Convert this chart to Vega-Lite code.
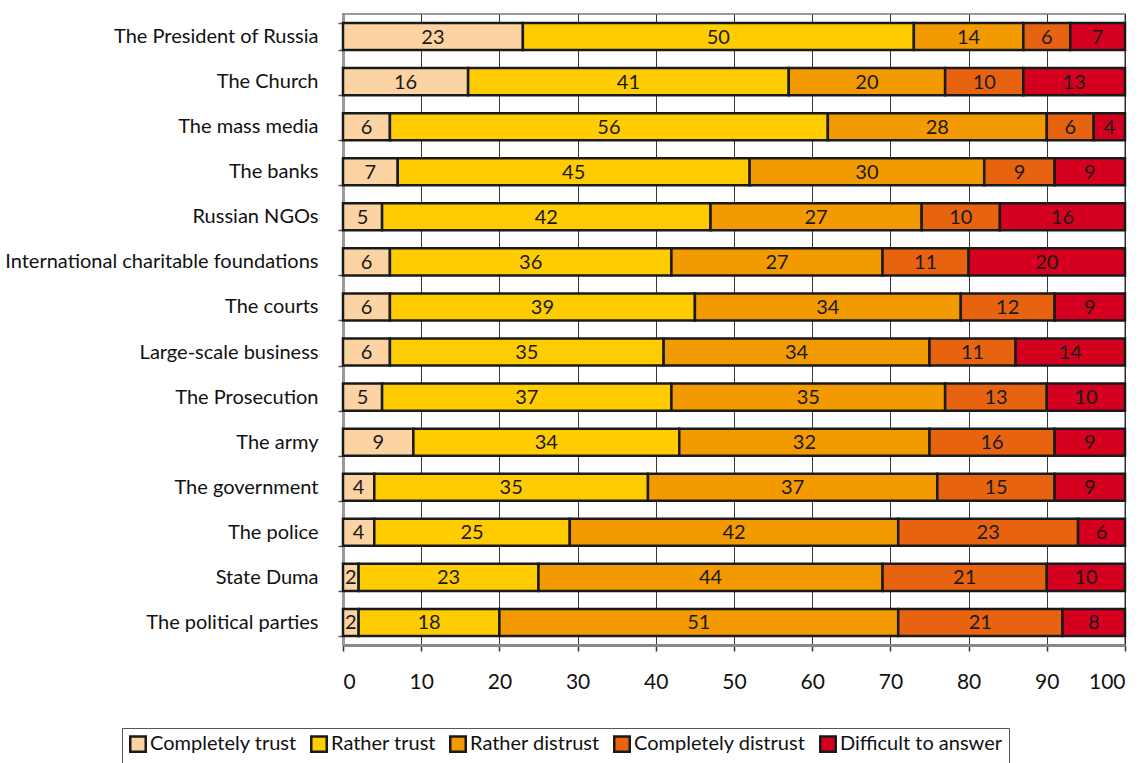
{
  "$schema": "https://vega.github.io/schema/vega-lite/v6.json",
  "width": 782,
  "height": 631,
  "autosize": {"type": "none"},
  "padding": {"left": 343, "top": 14, "right": 20, "bottom": 118},
  "background": "white",
  "config": {
    "font": "Lato",
    "view": {"stroke": "#999999", "strokeWidth": 2},
    "axis": {"labelFont": "Lato"},
    "legend": {"labelFont": "Lato"}
  },
  "data": {
    "values": [
      {"inst": "The President of Russia", "cat": "Completely trust", "o": 1, "v": 23},
      {"inst": "The President of Russia", "cat": "Rather trust", "o": 2, "v": 50},
      {"inst": "The President of Russia", "cat": "Rather distrust", "o": 3, "v": 14},
      {"inst": "The President of Russia", "cat": "Completely distrust", "o": 4, "v": 6},
      {"inst": "The President of Russia", "cat": "Difficult to answer", "o": 5, "v": 7},
      {"inst": "The Church", "cat": "Completely trust", "o": 1, "v": 16},
      {"inst": "The Church", "cat": "Rather trust", "o": 2, "v": 41},
      {"inst": "The Church", "cat": "Rather distrust", "o": 3, "v": 20},
      {"inst": "The Church", "cat": "Completely distrust", "o": 4, "v": 10},
      {"inst": "The Church", "cat": "Difficult to answer", "o": 5, "v": 13},
      {"inst": "The mass media", "cat": "Completely trust", "o": 1, "v": 6},
      {"inst": "The mass media", "cat": "Rather trust", "o": 2, "v": 56},
      {"inst": "The mass media", "cat": "Rather distrust", "o": 3, "v": 28},
      {"inst": "The mass media", "cat": "Completely distrust", "o": 4, "v": 6},
      {"inst": "The mass media", "cat": "Difficult to answer", "o": 5, "v": 4},
      {"inst": "The banks", "cat": "Completely trust", "o": 1, "v": 7},
      {"inst": "The banks", "cat": "Rather trust", "o": 2, "v": 45},
      {"inst": "The banks", "cat": "Rather distrust", "o": 3, "v": 30},
      {"inst": "The banks", "cat": "Completely distrust", "o": 4, "v": 9},
      {"inst": "The banks", "cat": "Difficult to answer", "o": 5, "v": 9},
      {"inst": "Russian NGOs", "cat": "Completely trust", "o": 1, "v": 5},
      {"inst": "Russian NGOs", "cat": "Rather trust", "o": 2, "v": 42},
      {"inst": "Russian NGOs", "cat": "Rather distrust", "o": 3, "v": 27},
      {"inst": "Russian NGOs", "cat": "Completely distrust", "o": 4, "v": 10},
      {"inst": "Russian NGOs", "cat": "Difficult to answer", "o": 5, "v": 16},
      {"inst": "International charitable foundations", "cat": "Completely trust", "o": 1, "v": 6},
      {"inst": "International charitable foundations", "cat": "Rather trust", "o": 2, "v": 36},
      {"inst": "International charitable foundations", "cat": "Rather distrust", "o": 3, "v": 27},
      {"inst": "International charitable foundations", "cat": "Completely distrust", "o": 4, "v": 11},
      {"inst": "International charitable foundations", "cat": "Difficult to answer", "o": 5, "v": 20},
      {"inst": "The courts", "cat": "Completely trust", "o": 1, "v": 6},
      {"inst": "The courts", "cat": "Rather trust", "o": 2, "v": 39},
      {"inst": "The courts", "cat": "Rather distrust", "o": 3, "v": 34},
      {"inst": "The courts", "cat": "Completely distrust", "o": 4, "v": 12},
      {"inst": "The courts", "cat": "Difficult to answer", "o": 5, "v": 9},
      {"inst": "Large-scale business", "cat": "Completely trust", "o": 1, "v": 6},
      {"inst": "Large-scale business", "cat": "Rather trust", "o": 2, "v": 35},
      {"inst": "Large-scale business", "cat": "Rather distrust", "o": 3, "v": 34},
      {"inst": "Large-scale business", "cat": "Completely distrust", "o": 4, "v": 11},
      {"inst": "Large-scale business", "cat": "Difficult to answer", "o": 5, "v": 14},
      {"inst": "The Prosecution", "cat": "Completely trust", "o": 1, "v": 5},
      {"inst": "The Prosecution", "cat": "Rather trust", "o": 2, "v": 37},
      {"inst": "The Prosecution", "cat": "Rather distrust", "o": 3, "v": 35},
      {"inst": "The Prosecution", "cat": "Completely distrust", "o": 4, "v": 13},
      {"inst": "The Prosecution", "cat": "Difficult to answer", "o": 5, "v": 10},
      {"inst": "The army", "cat": "Completely trust", "o": 1, "v": 9},
      {"inst": "The army", "cat": "Rather trust", "o": 2, "v": 34},
      {"inst": "The army", "cat": "Rather distrust", "o": 3, "v": 32},
      {"inst": "The army", "cat": "Completely distrust", "o": 4, "v": 16},
      {"inst": "The army", "cat": "Difficult to answer", "o": 5, "v": 9},
      {"inst": "The government", "cat": "Completely trust", "o": 1, "v": 4},
      {"inst": "The government", "cat": "Rather trust", "o": 2, "v": 35},
      {"inst": "The government", "cat": "Rather distrust", "o": 3, "v": 37},
      {"inst": "The government", "cat": "Completely distrust", "o": 4, "v": 15},
      {"inst": "The government", "cat": "Difficult to answer", "o": 5, "v": 9},
      {"inst": "The police", "cat": "Completely trust", "o": 1, "v": 4},
      {"inst": "The police", "cat": "Rather trust", "o": 2, "v": 25},
      {"inst": "The police", "cat": "Rather distrust", "o": 3, "v": 42},
      {"inst": "The police", "cat": "Completely distrust", "o": 4, "v": 23},
      {"inst": "The police", "cat": "Difficult to answer", "o": 5, "v": 6},
      {"inst": "State Duma", "cat": "Completely trust", "o": 1, "v": 2},
      {"inst": "State Duma", "cat": "Rather trust", "o": 2, "v": 23},
      {"inst": "State Duma", "cat": "Rather distrust", "o": 3, "v": 44},
      {"inst": "State Duma", "cat": "Completely distrust", "o": 4, "v": 21},
      {"inst": "State Duma", "cat": "Difficult to answer", "o": 5, "v": 10},
      {"inst": "The political parties", "cat": "Completely trust", "o": 1, "v": 2},
      {"inst": "The political parties", "cat": "Rather trust", "o": 2, "v": 18},
      {"inst": "The political parties", "cat": "Rather distrust", "o": 3, "v": 51},
      {"inst": "The political parties", "cat": "Completely distrust", "o": 4, "v": 21},
      {"inst": "The political parties", "cat": "Difficult to answer", "o": 5, "v": 8}
    ]
  },
  "transform": [
    {"stack": "v", "groupby": ["inst"], "sort": [{"field": "o"}], "as": ["x0", "x1"]},
    {"calculate": "(datum.x0 + datum.x1) / 2", "as": "xm"}
  ],
  "encoding": {
    "y": {
      "field": "inst",
      "type": "nominal",
      "sort": null,
      "title": null,
      "scale": {"paddingInner": 0.4, "paddingOuter": 0.2},
      "axis": {
        "labelFontSize": 20,
        "labelColor": "#111111",
        "labelPadding": 20,
        "labelLimit": 400,
        "tickBand": "extent",
        "tickColor": "#555555",
        "tickSize": 5,
        "tickWidth": 1.5,
        "domainColor": "#999999",
        "domainWidth": 3,
        "grid": false
      }
    }
  },
  "layer": [
    {
      "mark": {"type": "bar", "stroke": "#1a1a1a", "strokeWidth": 2.5},
      "encoding": {
        "x": {
          "field": "x0",
          "type": "quantitative",
          "scale": {"domain": [0, 100], "nice": false},
          "title": null,
          "axis": {
            "values": [0, 10, 20, 30, 40, 50, 60, 70, 80, 90, 100],
            "labelFontSize": 21,
            "labelColor": "#111111",
            "labelPadding": 20,
            "tickColor": "#333333",
            "tickSize": 6,
            "tickWidth": 1.5,
            "domainColor": "#888888",
            "domainWidth": 3,
            "grid": true,
            "gridColor": "#222222",
            "gridWidth": 1,
            "gridOpacity": 0.9
          }
        },
        "x2": {"field": "x1"},
        "color": {
          "field": "cat",
          "type": "nominal",
          "sort": ["Completely trust", "Rather trust", "Rather distrust", "Completely distrust", "Difficult to answer"],
          "scale": {
            "domain": ["Completely trust", "Rather trust", "Rather distrust", "Completely distrust", "Difficult to answer"],
            "range": ["#FCD3A2", "#FFCC00", "#F29A00", "#E8630F", "#D5001F"]
          },
          "legend": {
            "title": null,
            "orient": "none",
            "direction": "horizontal",
            "legendX": -221,
            "legendY": 714,
            "labelFontSize": 20,
            "labelColor": "#111111",
            "symbolType": "square",
            "symbolSize": 240,
            "symbolStrokeColor": "#1a1a1a",
            "symbolStrokeWidth": 2.5,
            "labelOffset": 2,
            "columnPadding": 9,
            "padding": 6,
            "strokeColor": "#555555",
            "fillColor": "white",
            "labelLimit": 300
          }
        },
        "order": {"field": "o"}
      }
    },
    {
      "mark": {"type": "text", "fontSize": 20, "color": "#1a1a1a", "align": "center", "baseline": "middle", "dy": 1},
      "encoding": {
        "x": {"field": "xm", "type": "quantitative"},
        "text": {"field": "v", "type": "quantitative"}
      }
    }
  ]
}
